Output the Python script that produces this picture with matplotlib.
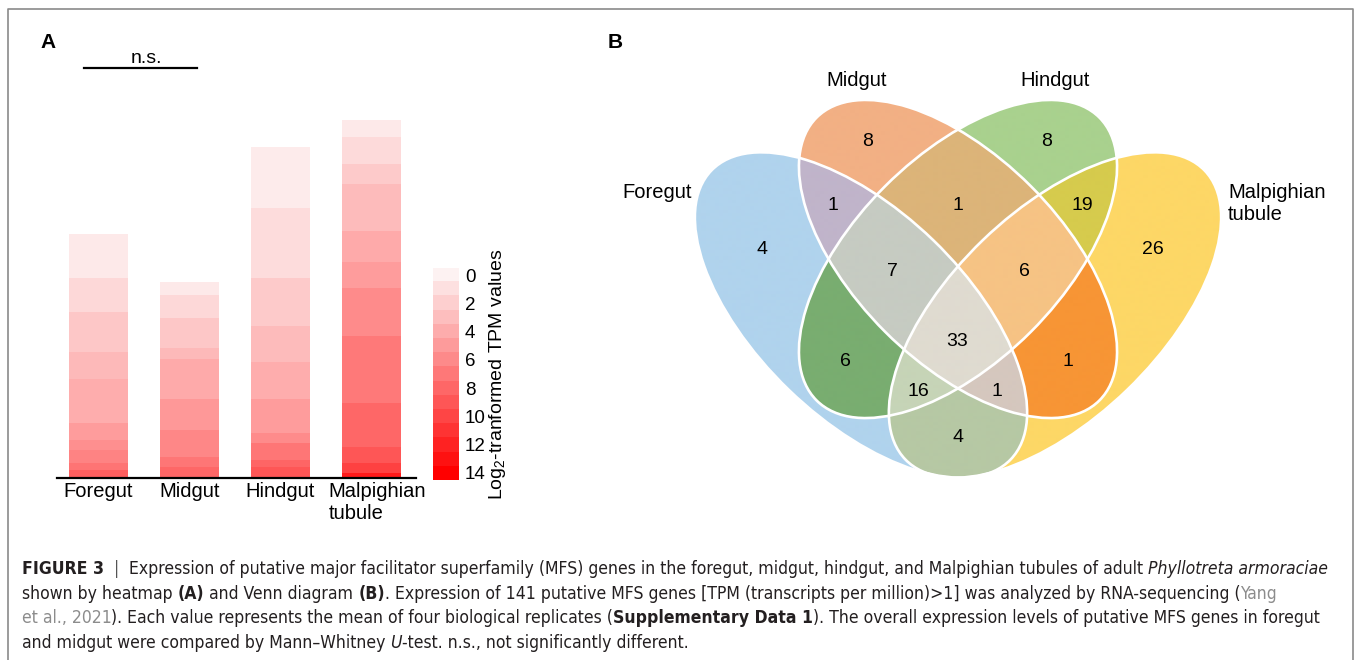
import numpy as np
import matplotlib
matplotlib.use('Agg')
import matplotlib.pyplot as plt
from matplotlib import colors as mcolors
from matplotlib.patches import Ellipse
from matplotlib.lines import Line2D
from matplotlib import font_manager

W, H = 1356, 660
plt.rcParams['font.family'] = ['Liberation Sans', 'DejaVu Sans']
plt.rcParams['mathtext.fontset'] = 'custom'
plt.rcParams['mathtext.rm'] = 'Liberation Sans'

# ---------------- panel A data (segments listed bottom -> top) ----------------
tissues = ['Foregut', 'Midgut', 'Hindgut', 'Malpighian\ntubule']
foregut_h = [8, 7, 13, 10, 17, 44, 27, 40, 34, 44]
foregut_v = [8.5, 7.3, 6.4, 5.7, 5.0, 4.0, 3.3, 2.5, 1.5, 0.5]
midgut_h = [11, 10, 27, 31, 40, 11, 30, 23, 13]
midgut_v = [8.0, 7.2, 6.2, 5.2, 4.2, 3.3, 2.5, 1.5, 0.5]
hindgut_h = [11, 7, 17, 10, 34, 37, 36, 48, 70, 61]
hindgut_v = [9.0, 8.2, 7.2, 6.0, 5.0, 4.0, 3.2, 2.3, 1.3, 0.4]
malp_h = [5, 10, 16, 44, 67, 48, 26, 31, 47, 20, 27, 17]
malp_v = [12.5, 10.2, 9.0, 8.0, 7.0, 6.0, 5.0, 4.2, 3.2, 2.3, 1.4, 0.5]
bar_heights = [foregut_h, midgut_h, hindgut_h, malp_h]
bar_levels = [foregut_v, midgut_v, hindgut_v, malp_v]
cbar_ticks = [0, 2, 4, 6, 8, 10, 12, 14]

# ---------------- panel B data (key = Foregut, Midgut, Hindgut, Malpighian) ----------------
venn_names = ['Foregut', 'Midgut', 'Hindgut', 'Malpighian\ntubule']
venn_counts = {'1000': 4, '0100': 8, '0010': 8, '0001': 26,
               '1100': 1, '0110': 1, '0011': 19, '1010': 6, '0101': 1, '1001': 4,
               '1110': 7, '0111': 6, '1011': 16, '1101': 1, '1111': 33}
venn_colors = {'1000': '#b0d3ed', '0100': '#f2b084', '0010': '#a9d18e', '0001': '#fdd766',
               '1100': '#c0b4ca', '0110': '#dcb479', '0011': '#d6cb4d', '1010': '#79ad70',
               '0101': '#f79535', '1001': '#b6c8a4', '1110': '#c6cbc2', '0111': '#f6c384',
               '1011': '#c6d4b7', '1101': '#d5c7be', '1111': '#dfdbd0'}
# layout: ellipses (cx, cy, semi-major, semi-minor, angle) in pixel coords, y down
ellipses = [(861, 315, 208, 104, 44), (958, 259, 200, 103, 45),
            (958, 259, 200, 103, -45), (1055, 315, 208, 104, -44)]
count_pos = {'1000': (762, 249), '0100': (868, 141), '0010': (1047, 141), '0001': (1153, 249),
             '1100': (833, 206), '0110': (958, 206), '0011': (1082, 206), '1010': (845, 362),
             '0101': (1068, 362), '1001': (958, 437), '1110': (892, 271), '0111': (1024, 271),
             '1011': (918, 392), '1101': (997, 392), '1111': (957, 342)}

cmap = mcolors.LinearSegmentedColormap.from_list('pinkred', ['#fdf2f2', '#ff0000'])
norm = mcolors.Normalize(vmin=0, vmax=14)

fig = plt.figure(figsize=(W / 100, H / 100), dpi=100)

# overlay axes in pixel coordinates
ov = fig.add_axes([0, 0, 1, 1])
ov.set_xlim(0, W)
ov.set_ylim(H, 0)
ov.axis('off')

# frame
ov.add_line(Line2D([8, 8, 1353, 1353], [H + 5, 9, 9, H + 5], color='#8a8a8a', lw=1.2))
ov.text(48, 43, 'A', fontsize=15, weight='bold', ha='center', va='center')
ov.text(615, 43, 'B', fontsize=15, weight='bold', ha='center', va='center')

# ---------------- panel A ----------------
ax = fig.add_axes([57 / W, 1 - 478 / H, (416 - 57) / W, (478 - 100) / H])
ax.set_xlim(-0.456, 3.49)
ax.set_ylim(0, 378)
for i, (hs, vs) in enumerate(zip(bar_heights, bar_levels)):
    bottoms = np.concatenate([[0], np.cumsum(hs)[:-1]])
    ax.bar([i] * len(hs), hs, bottom=bottoms, width=0.65,
           color=[cmap(norm(v)) for v in vs], linewidth=0)
for s in ['top', 'right', 'left']:
    ax.spines[s].set_visible(False)
ax.spines['bottom'].set_linewidth(1.6)
ax.set_xticks([])
ax.set_yticks([])
ax.patch.set_alpha(0)
for i, name in enumerate(tissues):
    if '\n' in name:
        ax.annotate(name, (i, 0), xycoords=('data', 'axes fraction'), xytext=(-31, -3),
                    textcoords='offset points', ha='left', va='top', fontsize=14.5,
                    linespacing=1.2)
    else:
        ax.annotate(name, (i, 0), xycoords=('data', 'axes fraction'), xytext=(0, -3),
                    textcoords='offset points', ha='center', va='top', fontsize=14.5)

# significance bar
ov.plot([84, 197], [68, 68], color='black', lw=1.6)
ov.text(146, 63, 'n.s.', fontsize=14, ha='center', va='baseline')

# colour bar
cax = fig.add_axes([433 / W, 1 - 480 / H, 25 / W, 212 / H])
lv = np.arange(0, 15)
cax.imshow(lv.reshape(-1, 1), cmap=cmap, norm=norm, aspect='auto',
           extent=(0, 1, 14.5, -0.5), interpolation='nearest')
cax.set_ylim(14.5, -0.5)
cax.set_xticks([])
cax.yaxis.tick_right()
cax.set_yticks(cbar_ticks)
cax.tick_params(axis='y', length=0, pad=5, labelsize=13.5)
for s in cax.spines.values():
    s.set_visible(False)
cax.yaxis.set_label_position('right')
cax.set_ylabel('Log$_2$-tranformed TPM values', fontsize=14, labelpad=1)

# ---------------- panel B ----------------
x0, x1, y0, y1 = 680, 1240, 90, 490
gx = np.linspace(x0, x1, 1121)
gy = np.linspace(y0, y1, 801)
X, Y = np.meshgrid(gx, gy)
member = []
for cx, cy, a, b, ang in ellipses:
    t = np.radians(ang)
    dx, dy = X - cx, Y - cy
    u = dx * np.cos(t) + dy * np.sin(t)
    v = -dx * np.sin(t) + dy * np.cos(t)
    member.append((u / a) ** 2 + (v / b) ** 2 <= 1)
img = np.zeros(X.shape + (4,))
for key, col in venn_colors.items():
    mask = np.ones(X.shape, bool)
    for k, m in zip(key, member):
        mask &= m if k == '1' else ~m
    img[mask] = mcolors.to_rgba(col)
ov.imshow(img, extent=(x0, x1, y1, y0), origin='upper', interpolation='antialiased', zorder=1)
for cx, cy, a, b, ang in ellipses:
    ov.add_patch(Ellipse((cx, cy), 2 * a, 2 * b, angle=ang, fill=False,
                         edgecolor='white', lw=1.9, zorder=2))
for key, n in venn_counts.items():
    px, py = count_pos[key]
    ov.text(px, py, str(n), fontsize=14, ha='center', va='center', zorder=3)
ov.text(692, 193, venn_names[0], fontsize=14.5, ha='right', va='center')
ov.text(857, 80, venn_names[1], fontsize=14.5, ha='center', va='center')
ov.text(1055, 80, venn_names[2], fontsize=14.5, ha='center', va='center')
ov.text(1228, 203, venn_names[3], fontsize=14.5, ha='left', va='center', linespacing=1.2)
ov.set_xlim(0, W)
ov.set_ylim(H, 0)

# ---------------- caption ----------------
cap_kw = {'family': 'Liberation Sans'}
for f in font_manager.fontManager.ttflist:
    if f.name == 'Liberation Sans Narrow':
        cap_kw = {'family': 'Liberation Sans Narrow'}
        break
else:
    for f in font_manager.fontManager.ttflist:
        if f.name == 'DejaVu Sans' and f.stretch == 'condensed':
            cap_kw = {'family': 'DejaVu Sans', 'stretch': 'condensed'}
            break
ink = '#231f20'
grey = '#8c8c8c'
caption = [
    [('FIGURE 3', 'bold', 'normal', ink), ('  |  ', 'normal', 'normal', '#555555'),
     ('Expression of putative major facilitator superfamily (MFS) genes in the foregut, midgut, '
      'hindgut, and Malpighian tubules of adult ', 'normal', 'normal', ink),
     ('Phyllotreta armoraciae', 'normal', 'italic', ink)],
    [('shown by heatmap ', 'normal', 'normal', ink), ('(A)', 'bold', 'normal', ink),
     (' and Venn diagram ', 'normal', 'normal', ink), ('(B)', 'bold', 'normal', ink),
     ('. Expression of 141 putative MFS genes [TPM (transcripts per million)>1] was analyzed '
      'by RNA-sequencing (', 'normal', 'normal', ink), ('Yang', 'normal', 'normal', grey)],
    [('et al., 2021', 'normal', 'normal', grey),
     ('). Each value represents the mean of four biological replicates (', 'normal', 'normal', ink),
     ('Supplementary Data 1', 'bold', 'normal', ink),
     ('). The overall expression levels of putative MFS genes in foregut', 'normal', 'normal', ink)],
    [('and midgut were compared by Mann\u2013Whitney ', 'normal', 'normal', ink),
     ('U', 'normal', 'italic', ink),
     ('-test. n.s., not significantly different.', 'normal', 'normal', ink)],
]
baselines = [574, 599, 623, 648]

renderer = fig.canvas.get_renderer()


def run_width(s, size, weight, style):
    kw = dict(fontsize=size, weight=weight, style=style, **cap_kw)
    a = fig.text(0, 0, 'x' + s + 'x', **kw)
    b = fig.text(0, 0, 'xx', **kw)
    w = a.get_window_extent(renderer).width - b.get_window_extent(renderer).width
    a.remove()
    b.remove()
    return w


ref = sum(run_width(s, 10, wt, st) for s, wt, st, c in caption[0])
cap_size = min(10 * (1330 - 22) / ref, 14.5)
for line, yb in zip(caption, baselines):
    x = 22
    for s, wt, st, c in line:
        fig.text(x / W, 1 - yb / H, s, fontsize=cap_size, weight=wt, style=st, color=c,
                 ha='left', va='baseline', **cap_kw)
        x += run_width(s, cap_size, wt, st)

fig.savefig('out.png', dpi=100)
